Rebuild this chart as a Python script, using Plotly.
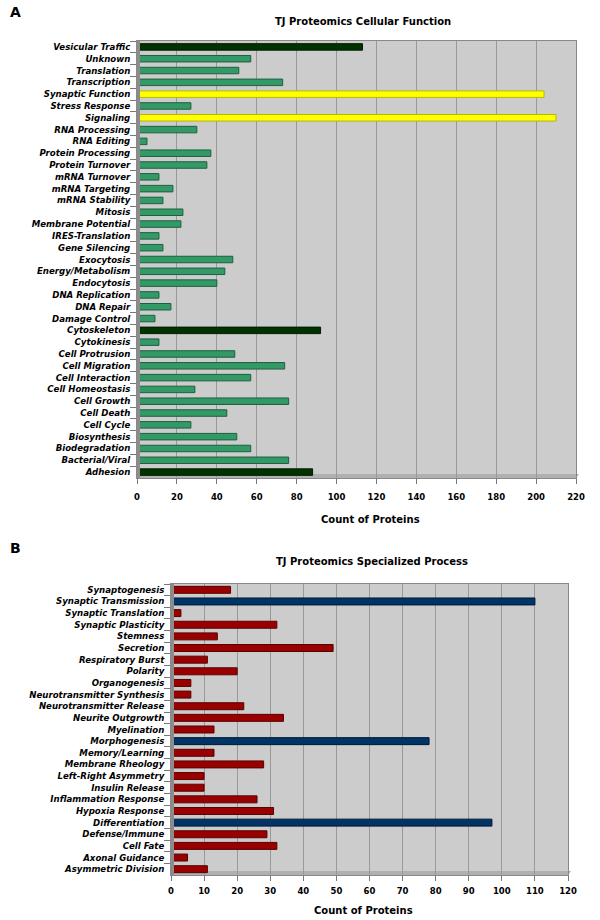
import plotly.graph_objects as go

# ---- Data: Panel A ----
cat_a = ["Vesicular Traffic", "Unknown", "Translation", "Transcription", "Synaptic Function",
         "Stress Response", "Signaling", "RNA Processing", "RNA Editing", "Protein Processing",
         "Protein Turnover", "mRNA Turnover", "mRNA Targeting", "mRNA Stability", "Mitosis",
         "Membrane Potential", "IRES-Translation", "Gene Silencing", "Exocytosis",
         "Energy/Metabolism", "Endocytosis", "DNA Replication", "DNA Repair", "Damage Control",
         "Cytoskeleton", "Cytokinesis", "Cell Protrusion", "Cell Migration", "Cell Interaction",
         "Cell Homeostasis", "Cell Growth", "Cell Death", "Cell Cycle", "Biosynthesis",
         "Biodegradation", "Bacterial/Viral", "Adhesion"]
val_a = [113, 57, 51, 73, 204, 27, 210, 30, 5, 37, 35, 11, 18, 13, 23, 22, 11, 13, 48, 44, 40,
         11, 17, 9, 92, 11, 49, 74, 57, 29, 76, 45, 27, 50, 57, 76, 88]
dark_a = ["Vesicular Traffic", "Cytoskeleton", "Adhesion"]
yellow_a = ["Synaptic Function", "Signaling"]
ticks_a = [0, 20, 40, 60, 80, 100, 120, 140, 160, 180, 200, 220]

# ---- Data: Panel B ----
cat_b = ["Synaptogenesis", "Synaptic Transmission", "Synaptic Translation", "Synaptic Plasticity",
         "Stemness", "Secretion", "Respiratory Burst", "Polarity", "Organogenesis",
         "Neurotransmitter Synthesis", "Neurotransmitter Release", "Neurite Outgrowth",
         "Myelination", "Morphogenesis", "Memory/Learning", "Membrane Rheology",
         "Left-Right Asymmetry", "Insulin Release", "Inflammation Response", "Hypoxia Response",
         "Differentiation", "Defense/Immune", "Cell Fate", "Axonal Guidance", "Asymmetric Division"]
val_b = [18, 110, 3, 32, 14, 49, 11, 20, 6, 6, 22, 34, 13, 78, 13, 28, 10, 10, 26, 31, 97, 29,
         32, 5, 11]
blue_b = ["Synaptic Transmission", "Morphogenesis", "Differentiation"]
ticks_b = [0, 10, 20, 30, 40, 50, 60, 70, 80, 90, 100, 110, 120]

W, H = 600, 920
def px(x): return x / W
def py(y): return 1 - y / H

col_a = ["#003300" if c in dark_a else ("#FFFF00" if c in yellow_a else "#339966") for c in cat_a]
line_a = ["#001a00" if c in dark_a else ("#B8B800" if c in yellow_a else "#1f5f3f") for c in cat_a]
col_b = ["#003366" if c in blue_b else "#990000" for c in cat_b]
line_b = ["#001a33" if c in blue_b else "#5a0000" for c in cat_b]

fig = go.Figure()
fig.add_trace(go.Bar(x=val_a, y=cat_a, orientation="h", xaxis="x", yaxis="y",
                     marker=dict(color=col_a, line=dict(color=line_a, width=1)),
                     width=0.55, showlegend=False))
fig.add_trace(go.Bar(x=val_b, y=cat_b, orientation="h", xaxis="x2", yaxis="y2",
                     marker=dict(color=col_b, line=dict(color=line_b, width=1)),
                     width=0.6, showlegend=False))

lab_font = dict(family="DejaVu Sans", size=8.6, color="#000000", weight="bold", style="italic")
tick_font = dict(family="DejaVu Sans", size=8.5, color="#000000", weight="bold")

A_x0, A_x1, A_y0, A_y1 = 137, 576, 41, 478
B_x0, B_x1, B_y0, B_y1 = 171, 568, 584, 875

common_x = dict(showgrid=True, gridcolor="#999999", gridwidth=1, zeroline=False,
                ticks="outside", ticklen=5, tickcolor="#777777", tickfont=tick_font,
                showline=True, linecolor="#888888", mirror=True, automargin=False)
common_y = dict(categoryorder="array", autorange="reversed", tickfont=lab_font,
                ticks="outside", ticklen=6, tickcolor="#777777", tickson="boundaries",
                ticklabelstandoff=4,
                showline=True, linecolor="#888888", mirror=True, showgrid=False,
                automargin=False)

fig.update_layout(
    width=W, height=H, margin=dict(l=0, r=0, t=0, b=0, pad=0), autosize=False,
    paper_bgcolor="white", plot_bgcolor="#CCCCCC",
    xaxis=dict(domain=[px(A_x0), px(A_x1)], anchor="y", range=[0, 220], tickvals=ticks_a,
               ticklabelstandoff=6, **common_x),
    yaxis=dict(domain=[py(A_y1), py(A_y0)], anchor="x", categoryarray=cat_a, **common_y),
    xaxis2=dict(domain=[px(B_x0), px(B_x1)], anchor="y2", range=[0, 120], tickvals=ticks_b,
                ticklabelstandoff=3, **common_x),
    yaxis2=dict(domain=[py(B_y1), py(B_y0)], anchor="x2", categoryarray=cat_b, **common_y),
)

# 3D-ish left walls and floors
for (x0, x1, y0, y1) in [(A_x0, A_x1, A_y0, A_y1), (B_x0, B_x1, B_y0, B_y1)]:
    fig.add_shape(type="rect", xref="paper", yref="paper", x0=px(x0), x1=px(x0 + 3),
                  y0=py(y1), y1=py(y0), fillcolor="#8C8C8C", line=dict(width=0), layer="above")
    fig.add_shape(type="path", xref="paper", yref="paper",
                  path=f"M {px(x0)},{py(y1)} L {px(x1)},{py(y1)} L {px(x1 + 3)},{py(y1 - 4)} L {px(x0 + 3)},{py(y1 - 4)} Z",
                  fillcolor="#B0B0B0", line=dict(width=0), layer="below")

ann = [
    dict(text="A", x=px(8), y=py(12), font=dict(family="DejaVu Sans", size=14, weight="bold")),
    dict(text="TJ Proteomics Cellular Function", x=px(363), y=py(21),
         font=dict(family="DejaVu Sans", size=10, weight="bold")),
    dict(text="Count of Proteins", x=px(370), y=py(519),
         font=dict(family="DejaVu Sans", size=10, weight="bold")),
    dict(text="B", x=px(8), y=py(548), font=dict(family="DejaVu Sans", size=14, weight="bold")),
    dict(text="TJ Proteomics Specialized Process", x=px(372), y=py(561),
         font=dict(family="DejaVu Sans", size=10, weight="bold")),
    dict(text="Count of Proteins", x=px(363), y=py(910),
         font=dict(family="DejaVu Sans", size=10, weight="bold")),
]
for a in ann:
    a.update(xref="paper", yref="paper", showarrow=False, xanchor="center", yanchor="middle")
    a["font"]["color"] = "#000000"
    fig.add_annotation(**a)
fig.layout.annotations[0].xanchor = "left"
fig.layout.annotations[3].xanchor = "left"

fig.write_html("out.html", config={"displayModeBar": False, "responsive": False},
               post_script="document.body.style.margin='0';document.body.style.overflow='hidden';")
